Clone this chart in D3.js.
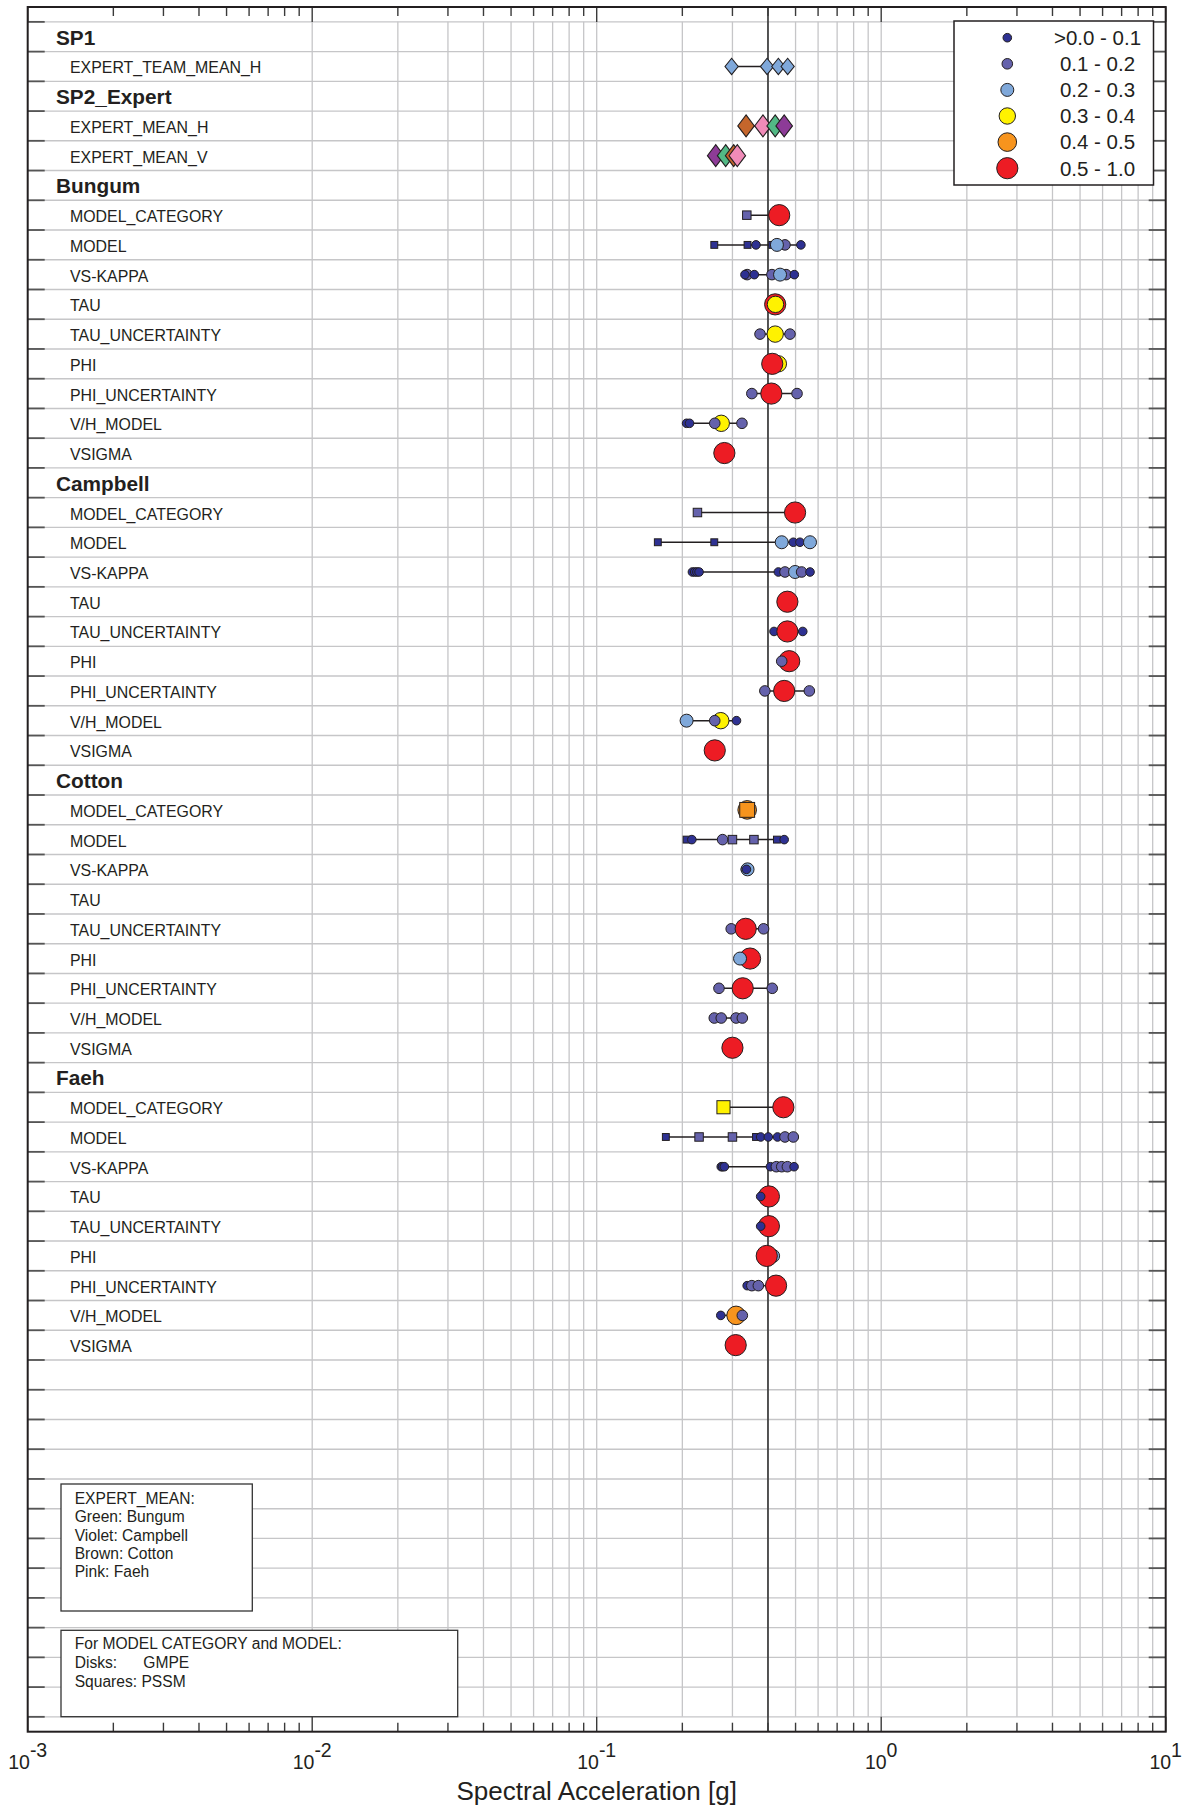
<!DOCTYPE html>
<html><head><meta charset="utf-8">
<script src="https://cdn.jsdelivr.net/npm/d3@7"></script>
<style>
body{margin:0;background:#fff}
svg{display:block}
text{font-family:"Liberation Sans",Arial,Helvetica,sans-serif;fill:#231f20}
</style>
</head><body>
<svg id="chart" width="1190" height="1807"></svg>
<script>
// ---------------- DATA ----------------
const weightClasses = [">0.0 - 0.1", "0.1 - 0.2", "0.2 - 0.3", "0.3 - 0.4", "0.4 - 0.5", "0.5 - 1.0"];
const weightColors  = ["#2e3192", "#6562ac", "#7fa8da", "#fff200", "#f7941d", "#ed1c24"];
const weightRadii   = [4.3, 5.3, 6.5, 8.2, 9.3, 10.6];

const xTickExponents = [-3, -2, -1, 0, 1];
const referenceValue = 0.4;

const teams = ["Bungum", "Campbell", "Cotton", "Faeh"];
const subRows = ["MODEL_CATEGORY", "MODEL", "VS-KAPPA", "TAU", "TAU_UNCERTAINTY", "PHI", "PHI_UNCERTAINTY", "V/H_MODEL", "VSIGMA"];
const teamColors = ["#52b985", "#8d3b97", "#c5662c", "#f08bb8"]; // Bungum, Campbell, Cotton, Faeh

// SP1 expert team means (weight 0.2-0.3 each)
const sp1TeamMeanH = [0.298, 0.397, 0.435, 0.469];
// SP2 expert means: [team index, value] in drawing order
const expertMeanH = [[2, 0.335], [3, 0.384], [0, 0.424], [1, 0.456]];
const expertMeanV = [[1, 0.262], [0, 0.284], [2, 0.303], [3, 0.312]];

// per team: 9 rows, each a list of [value, weight class, shape] (c = disk/GMPE, s = square/PSSM)
const bungum = [
  [[0.337,1,"s"],[0.438,5,"c"]],
  [[0.259,0,"s"],[0.339,0,"s"],[0.414,0,"s"],[0.363,0,"c"],[0.459,1,"c"],[0.430,2,"c"],[0.522,0,"c"]],
  [[0.338,1,"c"],[0.332,0,"c"],[0.358,0,"c"],[0.413,1,"c"],[0.463,1,"c"],[0.441,2,"c"],[0.495,0,"c"]],
  [[0.424,5,"c"],[0.425,3,"c"]],
  [[0.375,1,"c"],[0.424,3,"c"],[0.478,1,"c"]],
  [[0.435,3,"c"],[0.414,5,"c"]],
  [[0.351,1,"c"],[0.411,5,"c"],[0.506,1,"c"]],
  [[0.207,0,"c"],[0.212,0,"c"],[0.274,3,"c"],[0.260,1,"c"],[0.324,1,"c"]],
  [[0.281,5,"c"]]
];
const campbell = [
  [[0.226,1,"s"],[0.498,5,"c"]],
  [[0.164,0,"s"],[0.259,0,"s"],[0.447,2,"c"],[0.491,0,"c"],[0.518,0,"c"],[0.562,2,"c"]],
  [[0.217,0,"c"],[0.221,0,"c"],[0.225,0,"c"],[0.229,0,"c"],[0.435,0,"c"],[0.459,1,"c"],[0.498,2,"c"],[0.525,1,"c"],[0.562,0,"c"]],
  [[0.468,5,"c"]],
  [[0.420,0,"c"],[0.530,0,"c"],[0.468,5,"c"]],
  [[0.475,5,"c"],[0.447,1,"c"]],
  [[0.390,1,"c"],[0.456,5,"c"],[0.559,1,"c"]],
  [[0.207,2,"c"],[0.273,3,"c"],[0.260,1,"c"],[0.310,0,"c"]],
  [[0.260,5,"c"]]
];
const cotton = [
  [[0.338,4,"c"],[0.338,4,"s"]],
  [[0.207,0,"s"],[0.216,0,"c"],[0.277,1,"c"],[0.300,1,"s"],[0.357,1,"s"],[0.430,0,"s"],[0.456,0,"c"]],
  [[0.333,0,"c"],[0.339,2,"c"],[0.336,0,"c"]],
  [],
  [[0.297,1,"c"],[0.386,1,"c"],[0.334,5,"c"]],
  [[0.346,5,"c"],[0.319,2,"c"]],
  [[0.269,1,"c"],[0.414,1,"c"],[0.326,5,"c"]],
  [[0.259,1,"c"],[0.274,1,"c"],[0.309,1,"c"],[0.325,1,"c"]],
  [[0.300,5,"c"]]
];
const faeh = [
  [[0.279,3,"s"],[0.453,5,"c"]],
  [[0.175,0,"s"],[0.229,1,"s"],[0.300,1,"s"],[0.363,0,"s"],[0.377,0,"c"],[0.401,0,"c"],[0.432,0,"c"],[0.459,1,"c"],[0.491,1,"c"]],
  [[0.274,0,"c"],[0.277,0,"c"],[0.281,0,"c"],[0.408,0,"c"],[0.428,1,"c"],[0.447,1,"c"],[0.468,1,"c"],[0.494,0,"c"]],
  [[0.403,5,"c"],[0.377,0,"c"]],
  [[0.403,5,"c"],[0.377,0,"c"]],
  [[0.417,2,"c"],[0.396,5,"c"]],
  [[0.338,0,"c"],[0.351,1,"c"],[0.370,1,"c"],[0.427,5,"c"]],
  [[0.273,0,"c"],[0.309,4,"c"],[0.325,1,"c"]],
  [[0.308,5,"c"]]
];
const teamData = [bungum, campbell, cotton, faeh];

const noteExpert = ["EXPERT_MEAN:", "Green: Bungum", "Violet: Campbell", "Brown: Cotton", "Pink: Faeh"];
const noteModel = ["For MODEL CATEGORY and MODEL:", "Disks:", "Squares: PSSM"];
const axisTitle = "Spectral Acceleration [g]";

// ---------------- LAYOUT ----------------
const svg = d3.select("#chart");
const L = 27.7, R = 1165.7, T = 7, B = 1731.7;
const nRows = 58;
const x = d3.scaleLog().domain([1e-3, 10]).range([L, R]);
const y = d3.scaleLinear().domain([0, nRows]).range([T, B]);
const ink = "#231f20";

// build row list
const rows = [];
rows.push({label: "SP1", head: true});
rows.push({label: "EXPERT_TEAM_MEAN_H", head: false, kind: "sp1"});
rows.push({label: "SP2_Expert", head: true});
rows.push({label: "EXPERT_MEAN_H", head: false, kind: "emh"});
rows.push({label: "EXPERT_MEAN_V", head: false, kind: "emv"});
teams.forEach((t, ti) => {
  rows.push({label: t, head: true});
  subRows.forEach((s, si) => rows.push({label: s, head: false, kind: "team", pts: teamData[ti][si]}));
});
const rowY = i => y(i + 1);

// ---------------- GRID ----------------
const gGrid = svg.append("g");
const hLines = d3.range(nRows).map(k => k + 0.5);
gGrid.selectAll("line.h").data(hLines).join("line")
  .attr("x1", L).attr("x2", R).attr("y1", d => y(d)).attr("y2", d => y(d))
  .attr("stroke", "#c6c6c8").attr("stroke-width", 1.4);

const allTicks = [];
for (let e = -3; e <= 0; e++) for (let m = 1; m <= 9; m++) allTicks.push({v: m * Math.pow(10, e), major: m === 1});
allTicks.push({v: 10, major: true});
const gridTicks = allTicks.filter(d => d.v >= 0.0099 && d.v < 9.9);
gGrid.selectAll("line.v").data(gridTicks).join("line")
  .attr("x1", d => x(d.v)).attr("x2", d => x(d.v))
  .attr("y1", y(0.5)).attr("y2", y(nRows - 0.5))
  .attr("stroke", "#c6c6c8").attr("stroke-width", 1.3);

// reference line
svg.append("line").attr("x1", x(referenceValue)).attr("x2", x(referenceValue))
  .attr("y1", T).attr("y2", B).attr("stroke", "#333").attr("stroke-width", 1.6);

// ticks
const gTicks = svg.append("g").attr("stroke", "#3a3a3a").attr("stroke-width", 1.4);
gTicks.selectAll("line.bt").data(allTicks).join("line")
  .attr("x1", d => x(d.v)).attr("x2", d => x(d.v))
  .attr("y1", B).attr("y2", d => B - (d.major ? 15 : 9));
gTicks.selectAll("line.tt").data(allTicks).join("line")
  .attr("x1", d => x(d.v)).attr("x2", d => x(d.v))
  .attr("y1", T).attr("y2", d => T + (d.major ? 15 : 9));
gTicks.selectAll("line.lt").data(hLines).join("line")
  .attr("x1", L).attr("x2", L + 17).attr("y1", d => y(d)).attr("y2", d => y(d)).attr("stroke", "#555").attr("stroke-width", 1.8);
gTicks.selectAll("line.rt").data(hLines).join("line")
  .attr("x1", R - 17).attr("x2", R).attr("y1", d => y(d)).attr("y2", d => y(d)).attr("stroke", "#555").attr("stroke-width", 1.8);

// frame
svg.append("rect").attr("x", L).attr("y", T).attr("width", R - L).attr("height", B - T)
  .attr("fill", "none").attr("stroke", ink).attr("stroke-width", 2);

// ---------------- LABELS ----------------
const gLab = svg.append("g");
rows.forEach((r, i) => {
  gLab.append("text")
    .attr("x", r.head ? 56 : 70)
    .attr("y", rowY(i) + (r.head ? 7.8 : 7))
    .attr("font-size", r.head ? 20.8 : 15.9)
    .attr("font-weight", r.head ? "bold" : "normal")
    .text(r.label);
});

// ---------------- MARKS ----------------
const gMarks = svg.append("g");
function connector(cy, vals) {
  if (vals.length < 2) return;
  const [a, b] = d3.extent(vals);
  gMarks.append("line").attr("x1", x(a)).attr("x2", x(b)).attr("y1", cy).attr("y2", cy)
    .attr("stroke", ink).attr("stroke-width", 1.5);
}
function diamond(cx, cy, hw, hh, fill) {
  gMarks.append("path")
    .attr("d", `M${cx},${cy - hh}L${cx + hw},${cy}L${cx},${cy + hh}L${cx - hw},${cy}Z`)
    .attr("fill", fill).attr("stroke", ink).attr("stroke-width", 1.1);
}
function marker(g, cx, cy, w, shape) {
  const r = weightRadii[w];
  if (shape === "s") {
    const s = r * 1.6;
    g.append("rect").attr("x", cx - s / 2).attr("y", cy - s / 2).attr("width", s).attr("height", s)
      .attr("fill", weightColors[w]).attr("stroke", ink).attr("stroke-width", 1);
  } else {
    g.append("circle").attr("cx", cx).attr("cy", cy).attr("r", r)
      .attr("fill", weightColors[w]).attr("stroke", ink).attr("stroke-width", 1);
  }
}
rows.forEach((r, i) => {
  const cy = rowY(i);
  if (r.kind === "sp1") {
    connector(cy, sp1TeamMeanH);
    sp1TeamMeanH.forEach(v => diamond(x(v), cy, 6.6, 8.2, weightColors[2]));
  } else if (r.kind === "emh" || r.kind === "emv") {
    const d = r.kind === "emh" ? expertMeanH : expertMeanV;
    connector(cy, d.map(p => p[1]));
    d.forEach(p => diamond(x(p[1]), cy, 8.3, 11, teamColors[p[0]]));
  } else if (r.kind === "team") {
    connector(cy, r.pts.map(p => p[0]));
    r.pts.forEach(p => marker(gMarks, x(p[0]), cy, p[1], p[2]));
  }
});

// ---------------- LEGEND ----------------
const gLeg = svg.append("g");
gLeg.append("rect").attr("x", 954).attr("y", 21).attr("width", 199.5).attr("height", 164)
  .attr("fill", "#fff").attr("stroke", ink).attr("stroke-width", 1.5);
weightClasses.forEach((c, i) => {
  const cy = 37.7 + i * 26.1;
  marker(gLeg, 1007.3, cy, i, "c");
  gLeg.append("text").attr("x", 1097.5).attr("y", cy + 7.3).attr("text-anchor", "middle")
    .attr("font-size", 20.5).text(c);
});

// ---------------- NOTE BOXES ----------------
const gNote = svg.append("g");
gNote.append("rect").attr("x", 61).attr("y", 1484).attr("width", 191.3).attr("height", 127)
  .attr("fill", "#fff").attr("stroke", "#333").attr("stroke-width", 1.3);
noteExpert.forEach((t, i) => gNote.append("text").attr("x", 74.7).attr("y", 1504 + i * 18.25)
  .attr("font-size", 15.6).text(t));
gNote.append("rect").attr("x", 61).attr("y", 1630.3).attr("width", 396.7).attr("height", 86.4)
  .attr("fill", "#fff").attr("stroke", "#333").attr("stroke-width", 1.3);
noteModel.forEach((t, i) => gNote.append("text").attr("x", 74.7).attr("y", 1649.3 + i * 18.7)
  .attr("font-size", 15.6).text(t));
gNote.append("text").attr("x", 143.3).attr("y", 1649.3 + 18.7).attr("font-size", 15.6).text("GMPE");

// ---------------- X AXIS LABELS ----------------
const gAx = svg.append("g");
xTickExponents.forEach(e => {
  const t = gAx.append("text").attr("x", x(Math.pow(10, e))).attr("y", 1769)
    .attr("text-anchor", "middle").attr("font-size", 19.5);
  t.append("tspan").text("10");
  t.append("tspan").attr("dy", -11.7).text(String(e));
});
gAx.append("text").attr("x", (L + R) / 2).attr("y", 1799.5).attr("text-anchor", "middle")
  .attr("font-size", 26).text(axisTitle);
</script>
</body></html>
